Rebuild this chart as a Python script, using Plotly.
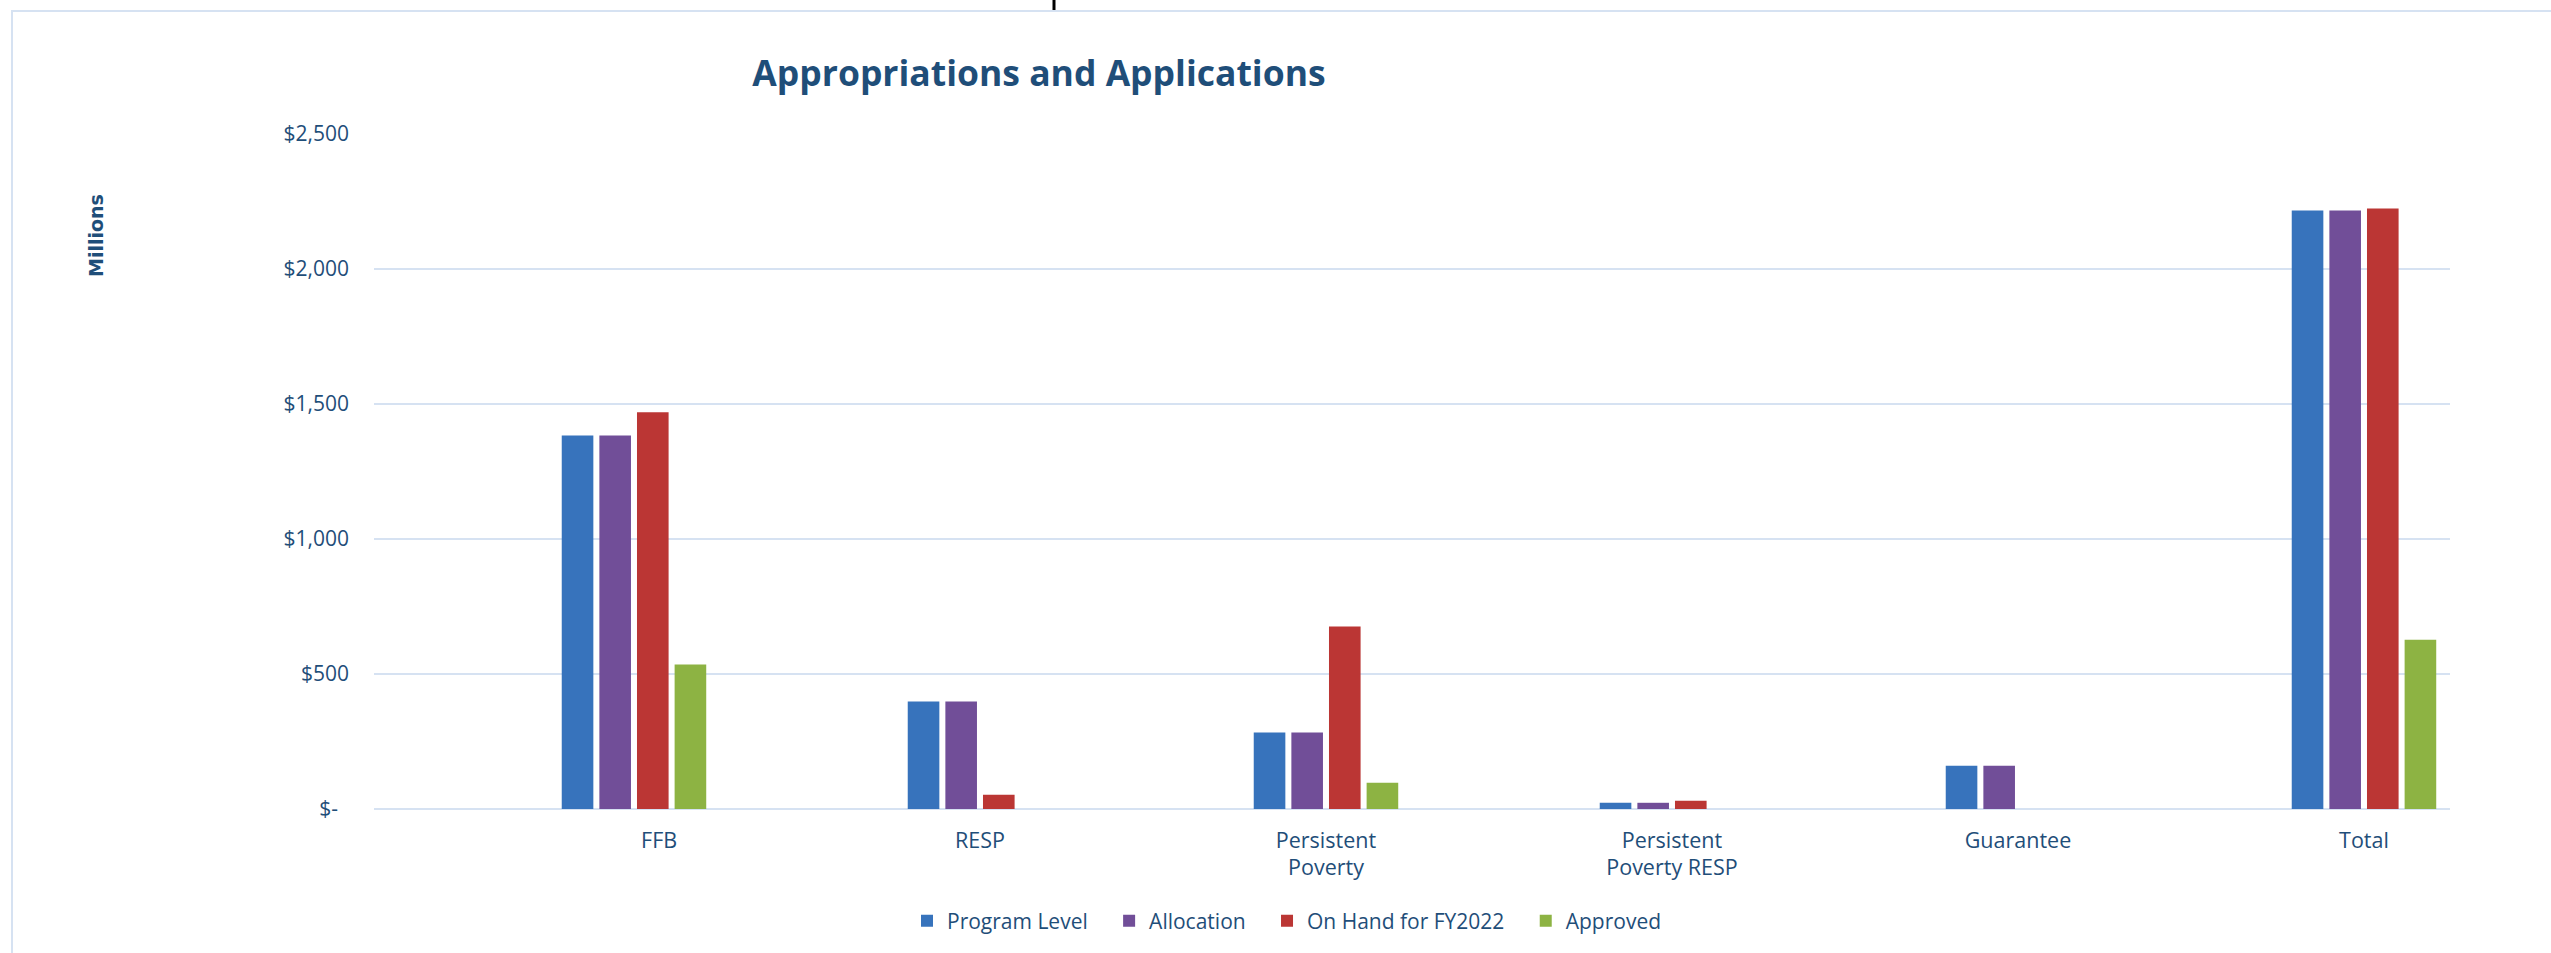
import plotly.graph_objects as go

# ---------------- data ----------------
categories = ["FFB", "RESP", "Persistent Poverty", "Persistent Poverty RESP", "Guarantee", "Total"]
category_labels = ["\u00a0" * 9 + "FFB", "RESP", "Persistent<br>Poverty", "Persistent<br>Poverty RESP", "Guarantee", "Total"]
series_names = ["Program Level", "Allocation", "On Hand for FY2022", "Approved"]
program_level = [1383, 398, 283, 23, 160, 2217]
allocation = [1383, 398, 283, 23, 160, 2217]
on_hand = [1469, 53, 676, 31, 0, 2224]
approved = [535, 0, 97, 0, 0, 627]
y_tickvals = [0, 500, 1000, 1500, 2000, 2500]
y_ticktext = ["$-\u00a0\u00a0", "$500", "$1,000", "$1,500", "$2,000", "$2,500"]

# ---------------- styling / layout ----------------
W, H = 2551, 953
L, R, T, B = 374, 2450, 134, 809  # plot area in pixels
TXT = "#1F4E79"
GRID = "#D6E2F2"
colors = ["#3773BC", "#714E98", "#BB3634", "#8DB343"]
legend_pad = ["\u00a0\u00a0\u00a0", "\u00a0\u00a0\u00a0", "\u00a0\u00a0\u00a0", ""]


def px_x(p):
    return (p - L) / (R - L)


def px_y(p):
    return (B - p) / (B - T)


fig = go.Figure()
for name, pad, vals, col in zip(series_names, legend_pad,
                                [program_level, allocation, on_hand, approved], colors):
    fig.add_trace(go.Bar(name=name + pad, x=categories, y=vals,
                         marker=dict(color=col, line=dict(width=0))))

fig.update_layout(
    width=W, height=H,
    margin=dict(l=L, r=W - R, t=T, b=H - B, autoexpand=False),
    paper_bgcolor="white", plot_bgcolor="white",
    barmode="group", bargap=0.565, bargroupgap=0.16,
    font=dict(family="Open Sans", size=21, color=TXT),
    title=dict(text="<b>Appropriations and Applications</b>",
               font=dict(family="Open Sans", size=35.5, color=TXT),
               x=1039 / W, xanchor="center", xref="container",
               y=1 - 74 / H, yanchor="middle", yref="container"),
    legend=dict(orientation="h", x=1287 / W, xanchor="center", xref="container",
                y=1 - 921 / H, yanchor="middle", yref="container",
                font=dict(family="Open Sans", size=21, color=TXT),
                traceorder="normal", bgcolor="rgba(0,0,0,0)"),
    showlegend=True,
)

fig.update_xaxes(type="category", range=[-0.7514, 5.2486],
                 tickmode="array", tickvals=categories, ticktext=category_labels,
                 showgrid=False, showline=False, zeroline=False, ticks="",
                 ticklabelstandoff=16,
                 tickfont=dict(family="Open Sans", size=21.5, color=TXT))
fig.update_yaxes(range=[0, 2500], tickmode="array", tickvals=y_tickvals, ticktext=y_ticktext,
                 showgrid=True, gridcolor=GRID, gridwidth=2,
                 zeroline=True, zerolinecolor=GRID, zerolinewidth=2,
                 showline=False, ticks="", ticklabelstandoff=24,
                 tickfont=dict(family="Open Sans", size=21, color=TXT))

fig.add_annotation(text="<b>Millions</b>", textangle=-90, showarrow=False,
                   xref="paper", yref="paper", x=px_x(96), y=px_y(236),
                   xanchor="center", yanchor="middle",
                   font=dict(family="DejaVu Sans", size=19, color=TXT))

# chart border
fig.add_shape(type="rect", xref="paper", yref="paper",
              x0=px_x(12), x1=px_x(2620), y0=px_y(1000), y1=px_y(11),
              line=dict(color=GRID, width=2), fillcolor="rgba(0,0,0,0)", layer="below")
# small black mark at top
fig.add_shape(type="line", xref="paper", yref="paper",
              x0=px_x(1054), x1=px_x(1054), y0=px_y(10), y1=px_y(-2),
              line=dict(color="black", width=3))

fig.write_html("out.html", config={"displayModeBar": False},
               post_script="document.body.style.margin='0';document.body.style.overflow='hidden';")
